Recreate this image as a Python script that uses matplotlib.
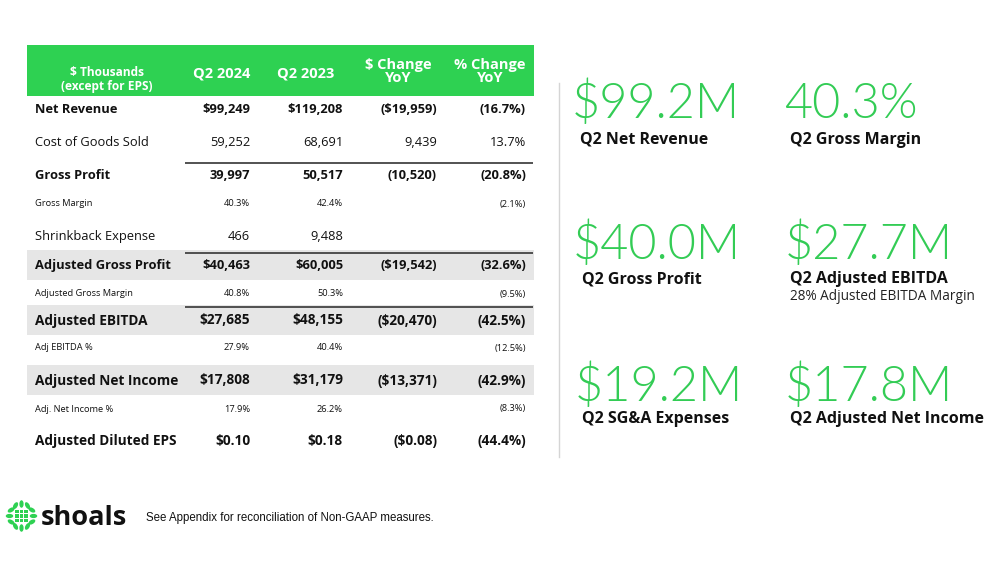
import matplotlib
matplotlib.use("Agg")
import matplotlib.pyplot as plt
from matplotlib.patches import Rectangle, Ellipse
import numpy as np

# ---------------- data ----------------
header_cols = ["$ Thousands\n(except for EPS)", "Q2 2024", "Q2 2023", "$ Change\nYoY", "% Change\nYoY"]
row_labels = ["Net Revenue", "Cost of Goods Sold", "Gross Profit", "Gross Margin",
              "Shrinkback Expense", "Adjusted Gross Profit", "Adjusted Gross Margin",
              "Adjusted EBITDA", "Adj EBITDA %", "Adjusted Net Income",
              "Adj. Net Income %", "Adjusted Diluted EPS"]
q2_2024 = ["$99,249", "59,252", "39,997", "40.3%", "466", "$40,463", "40.8%",
           "$27,685", "27.9%", "$17,808", "17.9%", "$0.10"]
q2_2023 = ["$119,208", "68,691", "50,517", "42.4%", "9,488", "$60,005", "50.3%",
           "$48,155", "40.4%", "$31,179", "26.2%", "$0.18"]
chg_usd = ["($19,959)", "9,439", "(10,520)", "", "", "($19,542)", "",
           "($20,470)", "", "($13,371)", "", "($0.08)"]
chg_pct = ["(16.7%)", "13.7%", "(20.8%)", "(2.1%)", "", "(32.6%)", "(9.5%)",
           "(42.5%)", "(12.5%)", "(42.9%)", "(8.3%)", "(44.4%)"]

kpi_values = ["$99.2M", "40.3%", "$40.0M", "$27.7M", "$19.2M", "$17.8M"]
kpi_labels = ["Q2 Net Revenue", "Q2 Gross Margin", "Q2 Gross Profit",
              "Q2 Adjusted EBITDA", "Q2 SG&A Expenses", "Q2 Adjusted Net Income"]
kpi_notes = ["", "", "", "28% Adjusted EBITDA Margin", "", ""]

footnote = "See Appendix for reconciliation of Non-GAAP measures."
brand = "shoals"

# ---------------- styles / layout ----------------
GREEN = "#2ED152"
KGREEN = "#33CC55"
GRAY = "#E6E6E6"
FONT = ["Open Sans", "DejaVu Sans"]

row_y = [108, 141, 174, 203, 235, 264, 293, 319, 347, 379, 408, 439]
row_kind = ["bold", "reg", "bold", "small", "reg", "bold", "small",
            "bigbold", "small", "bigbold", "small", "bigbold"]
shaded = [5, 7, 9]
line_above = {2: 163, 5: 253, 7: 307}
col_right = [250, 343, 437, 526]

size = {"bold": 9.3, "reg": 9.3, "small": 6.7, "bigbold": 9.8}
weight = {"bold": "bold", "reg": "normal", "small": "normal", "bigbold": "bold"}
VA = "center_baseline"

fig = plt.figure(figsize=(10, 5.63), dpi=100)
ax = fig.add_axes([0, 0, 1, 1])
ax.set_xlim(0, 1000)
ax.set_ylim(563, 0)
ax.axis("off")

# header
ax.add_patch(Rectangle((27, 45), 507, 51, color=GREEN, lw=0))
hdr_x = [107, 222, 306, 398, 490]
for i, h in enumerate(header_cols):
    if i == 0:
        ax.text(hdr_x[i], 79.5, h, ha="center", va="center", color="white",
                fontsize=8.6, fontweight="bold", family=FONT, linespacing=1.05)
    elif "\n" in h:
        ax.text(hdr_x[i], 71.5, h, ha="center", va="center", color="white",
                fontsize=10.5, fontweight="bold", family=FONT, linespacing=1.0)
    else:
        ax.text(hdr_x[i], 72, h, ha="center", va=VA, color="white",
                fontsize=10.5, fontweight="bold", family=FONT)

# shading & lines
for r in shaded:
    ax.add_patch(Rectangle((27, row_y[r] - 14.5), 507, 30, color=GRAY, lw=0))
for r, yl in line_above.items():
    ax.plot([185, 533], [yl, yl], color="#444444", lw=1.3, solid_capstyle="butt")

# rows
for i, lab in enumerate(row_labels):
    k = row_kind[i]
    y = row_y[i]
    ax.text(35, y, lab, ha="left", va=VA, fontsize=size[k],
            fontweight=weight[k], family=FONT, color="#111111")
    for j, vals in enumerate([q2_2024, q2_2023, chg_usd, chg_pct]):
        ax.text(col_right[j], y, vals[i], ha="right", va=VA,
                fontsize=size[k], fontweight=weight[k], family=FONT, color="#111111")

# vertical separator
ax.plot([559, 559], [83, 457], color="#D5D5D5", lw=1)

# KPIs
kpi_pos = [(572, 99), (784, 100), (573, 240), (785, 240), (575, 382), (785, 382)]
lab_pos = [(580, 137), (790, 138), (582, 277), (790, 277), (582, 417), (790, 417)]
for i, v in enumerate(kpi_values):
    x, y = kpi_pos[i]
    ax.text(x, y, v, ha="left", va=VA, fontsize=35, color=KGREEN,
            family=["Lato", "Open Sans", "DejaVu Sans"], fontweight=300)
    lx, ly = lab_pos[i]
    ax.text(lx, ly, kpi_labels[i], ha="left", va=VA, fontsize=11.5,
            fontweight="bold", family=FONT, color="#111111")
    if kpi_notes[i]:
        ax.text(lx, ly + 17, kpi_notes[i], ha="left", va=VA, fontsize=9.8,
                family=FONT, color="#222222")

# logo icon (decorative)
cx, cy = 21.5, 516
for ang in np.arange(0, 360, 30):
    a = np.deg2rad(ang)
    ax.add_patch(Ellipse((cx + 12 * np.cos(a), cy + 12 * np.sin(a)), 7.5, 4.2,
                         angle=-ang, color=GREEN, lw=0))
for gx in (-4.5, 0, 4.5):
    for gy in (-4.5, 0, 4.5):
        ax.add_patch(Rectangle((cx + gx - 1.9, cy + gy - 1.9), 3.8, 3.8, color=GREEN, lw=0))
ax.text(41, 515, brand, ha="left", va=VA, fontsize=19.5, fontweight="bold",
        family=FONT, color="#111111")
ax.text(146, 517, footnote, ha="left", va=VA, fontsize=8.3,
        family=["Liberation Sans", "DejaVu Sans"], color="#111111")

fig.savefig("out.png", dpi=100, facecolor="white")
